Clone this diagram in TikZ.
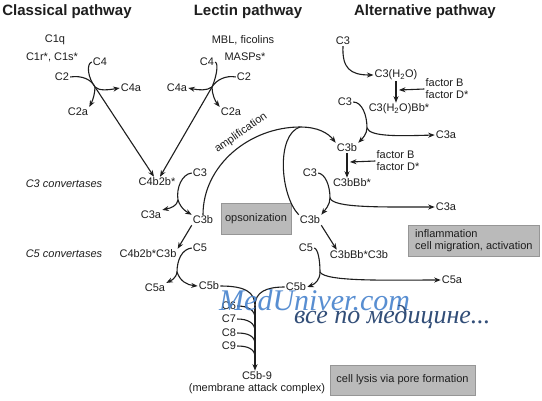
\documentclass[tikz,border=0pt]{standalone}
\usepackage{fontspec}
\setmainfont{Liberation Sans}
\newfontfamily\wmfont{Liberation Serif}
\usetikzlibrary{calc,arrows.meta}
\definecolor{ink}{RGB}{30,30,30}
\definecolor{boxgray}{RGB}{186,186,186}
\definecolor{boxedge}{RGB}{150,150,150}
\definecolor{wmblue}{RGB}{70,130,205}
\definecolor{wmdark}{RGB}{50,78,120}
\begin{document}
\begin{tikzpicture}[x=1pt,y=-1pt,
  every node/.style={inner sep=1pt, text=ink, font=\fontsize{11}{12}\selectfont},
  title/.style={font=\bfseries\fontsize{15}{17}\selectfont},
  conv/.style={font=\itshape\fontsize{11}{12}\selectfont},
  box/.style={fill=boxgray, draw=boxedge, inner sep=3pt},
  ln/.style={draw=ink, line width=1.1pt},
  arr/.style={draw=ink, line width=1.1pt, -{Stealth[length=6.5pt,width=5pt]}},
  wma/.style={anchor=base west, font=\wmfont\itshape\fontsize{30}{30}\selectfont, text=wmblue},
  wmb/.style={anchor=base west, font=\wmfont\itshape\fontsize{26}{26}\selectfont, text=wmdark}]
\useasboundingbox (0,0) rectangle (542,400);
\fill[white] (0,0) rectangle (542,400);
% titles
\node[title] (tcl) at (67,12) {Classical pathway};
\node[title] (tle) at (248,12) {Lectin pathway};
\node[title] (tal) at (425,12) {Alternative pathway};
% classical
\node (c1q) at (55,40) {C1q};
\node (c1r) at (52,57) {C1r*, C1s*};
\node (cC4) at (100,62) {C4};
\node (cC2) at (62,77) {C2};
\node (cC4a) at (131,88) {C4a};
\node (cC2a) at (78,112) {C2a};
\coordinate (cj) at (95,87);
% lectin
\node (lMBL) at (243,40) {MBL, ficolins};
\node (lMASP) at (245,57) {MASPs*};
\node (lC4) at (207,62) {C4};
\node (lC2) at (244,77) {C2};
\node (lC4a) at (177,88) {C4a};
\node (lC2a) at (231,112) {C2a};
\coordinate (lj) at (212,87);
% middle column
\node (C4b2b) at (157,182) {C4b2b*};
\node[conv] (cv3) at (64,184) {C3 convertases};
\node (mC3) at (200,173) {C3};
\node (mC3a) at (151,215) {C3a};
\node (mC3b) at (203,220) {C3b};
\node[box, minimum width=70, minimum height=31] (ops) at (256,218.5) {opsonization};
\node (C4b2bC3b) at (148,254) {C4b2b*C3b};
\node[conv] (cv5) at (64,254) {C5 convertases};
\node (mC5) at (200,248) {C5};
\node (mC5a) at (155,288) {C5a};
\node (mC5b) at (209,286) {C5b};
\coordinate (j3) at (178,200);
\coordinate (j5) at (177,272);
% alternative
\node (aC3) at (343,41) {C3};
\node (aH) at (396,75) {C3(H\textsubscript{2}O)};
\node[align=left] (fac1) at (447,89) {factor B\\factor D*};
\node (aC3x) at (345,102) {C3};
\node (aHBb) at (399,109) {C3(H\textsubscript{2}O)Bb*};
\node (aC3a1) at (446,135) {C3a};
\node (aC3b) at (347,148) {C3b};
\node[align=left] (fac2) at (398,161) {factor B\\factor D*};
\node (aC3y) at (310,173) {C3};
\node (aBb) at (352,183) {C3bBb*};
\node (aC3a2) at (446,207) {C3a};
\node (aC3b2) at (310,220) {C3b};
\node[box, align=left, inner xsep=7pt, minimum height=31, anchor=west] (infl) at (408,240.5) {inflammation\\cell migration, activation};
\node (aC5) at (306,248) {C5};
\node (aBbC3b) at (359,255) {C3bBb*C3b};
\node (aC5a) at (452,280) {C5a};
\node (aC5b) at (296,287) {C5b};
\node[box, minimum width=145, minimum height=30] (lysis) at (402.5,380) {cell lysis via pore formation};
\coordinate (ja) at (367,128);
\coordinate (jb) at (330,198);
\coordinate (jc) at (320,272);
\coordinate (m1) at (399,90);
\coordinate (m2) at (350,162);
\coordinate (pk) at (300,127);
% membrane attack complex
\node (c6) at (229,306) {C6};
\node (c7) at (229,319) {C7};
\node (c8) at (229,333) {C8};
\node (c9) at (229,346) {C9};
\node[align=center] (mac) at (257,383) {C5b-9\\(membrane attack complex)};
\coordinate (mv) at (255,306);
\coordinate (m6) at (255,318);
\coordinate (m7) at (255,331);
\coordinate (m8) at (255,344);
\coordinate (m9) at (255,357);
\node[rotate=35] (amp) at (241,133) {amplification};
% --- connectors: classical
\draw[ln] (cC4.west) .. controls (86,64) and (88,78) .. (cj);
\draw[ln] (cC2.east) .. controls (82,75) and (92,80) .. (cj);
\draw[arr] (cj) .. controls (99,91) and (108,90) .. (cC4a.west);
\draw[arr] (cj) .. controls (95,93) and (93,100) .. (cC2a.north east);
\draw[arr] (cj) -- ([xshift=-3pt]C4b2b.north);
% lectin
\draw[ln] (lC4.east) .. controls (219,64) and (216,78) .. (lj);
\draw[ln] (lC2.west) .. controls (226,75) and (216,80) .. (lj);
\draw[arr] (lj) .. controls (207,91) and (198,90) .. (lC4a.east);
\draw[arr] (lj) .. controls (212,94) and (215,101) .. (lC2a.north west);
\draw[arr] (lj) -- ([xshift=3pt]C4b2b.north);
% middle
\draw[ln] (mC3.west) .. controls (182,174) and (176,188) .. (j3);
\draw[arr] (j3) .. controls (177,206) and (171,208) .. (mC3a.north east);
\draw[arr] (j3) .. controls (181,209) and (187,212) .. (mC3b.north west);
\draw[arr] (mC3b.south west) -- (C4b2bC3b.north east);
\draw[ln] (mC5.west) .. controls (182,249) and (177,260) .. (j5);
\draw[arr] (j5) .. controls (176,279) and (170,281) .. (mC5a.north east);
\draw[arr] (j5) .. controls (180,281) and (187,285) .. (mC5b.west);
% amplification loop
\draw[ln] (mC3b.north) .. controls (203,165) and (250,127) .. (pk);
\draw[arr] (pk) .. controls (318,127) and (328,133) .. (aC3b.north west);
\draw[ln] (aC3b2.north west) .. controls (280,195) and (276,135) .. (pk);
% alternative
\draw[arr] (aC3.south) .. controls (342,68) and (350,75) .. (aH.west);
\draw[arr] (aH.south) -- (aH.south |- aHBb.north);
\draw[arr] (fac1.west) -- (m1);
\draw[ln] (aC3x.east) .. controls (362,102) and (367,115) .. (ja);
\draw[arr] (ja) .. controls (370,137) and (400,136) .. (aC3a1.west);
\draw[arr] (ja) .. controls (367,134) and (362,139) .. (aC3b.north east);
\draw[arr] (aC3b.south) -- (aC3b.south |- aBb.north);
\draw[arr] (fac2.west) -- (m2);
\draw[ln] (aC3y.east) .. controls (325,174) and (330,185) .. (jb);
\draw[arr] (jb) .. controls (333,208) and (380,207) .. (aC3a2.west);
\draw[arr] (jb) .. controls (330,205) and (325,210) .. (aC3b2.north east);
\draw[arr] (aC3b2.south east) -- ([xshift=8pt]aBbC3b.north west);
\draw[ln] (aC5.east) .. controls (318,249) and (320,260) .. (jc);
\draw[arr] (jc) .. controls (320,280) and (315,284) .. (aC5b.east);
\draw[arr] (jc) .. controls (325,282) and (390,280) .. (aC5a.west);
% MAC
\draw[ln] (mC5b.east) .. controls (245,286) and (255,292) .. (mv);
\draw[ln] (aC5b.west) .. controls (266,287) and (255,292) .. (mv);
\draw[ln] (c6.east) .. controls (248,306) and (255,310) .. (m6);
\draw[ln] (c7.east) .. controls (248,319) and (255,323) .. (m7);
\draw[ln] (c8.east) .. controls (248,333) and (255,336) .. (m8);
\draw[ln] (c9.east) .. controls (248,346) and (255,349) .. (m9);
\draw[arr] (mv) -- (mv |- mac.north);
% watermark
\node[wma, opacity=0.9] (wm1) at (218,310) {MedUniver.com};
\node[wmb] (wm2) at (293,323) {все по медицине...};
\end{tikzpicture}
\end{document}
